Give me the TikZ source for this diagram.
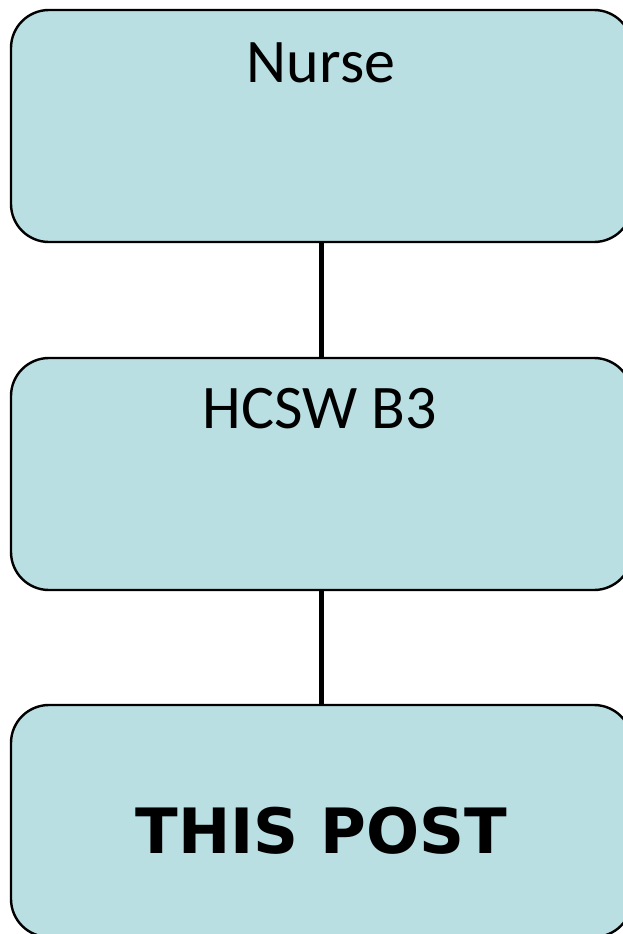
\documentclass[tikz,border=0pt]{standalone}
\usepackage{fontspec}
\setmainfont{Carlito}
\newfontfamily\postfont{DejaVu Sans}
\usepackage{tikz}
\usetikzlibrary{positioning}
\definecolor{boxblue}{RGB}{185,223,227}
\tikzset{
	postbox/.style={draw=black, line width=2.4pt, fill=boxblue, rounded corners=38pt,
		minimum width=621pt, minimum height=232pt, inner sep=0pt},
	postname/.style={anchor=base, font=\fontsize{62}{70}\selectfont},
	link/.style={line width=5pt}
}

\begin{document}
\begin{tikzpicture}[x=1pt,y=-1pt]
	\pgfmathsetmacro{\boxx}{321.5}
	\clip (0,0) rectangle (623,934);
	\useasboundingbox (0,0) rectangle (623,934);
	\node[postbox] (nurse) at (\boxx,126) {};
	\node[postbox] (hcsw) at (\boxx,474) {};
	\node[postbox] (post) at (\boxx,821) {};
	\draw[link] (nurse.south) -- (hcsw.north);
	\draw[link] (hcsw.south) -- (post.north);
	\node[postname] (nursetxt) at (321,82) {Nurse};
	\node[postname] (hcswtxt) at (320,428) {HCSW B3};
	\node[anchor=base, font=\postfont\bfseries\fontsize{62.5}{70}\selectfont] (posttxt) at (321.5,853) {THIS POST};
\end{tikzpicture}
\end{document}
